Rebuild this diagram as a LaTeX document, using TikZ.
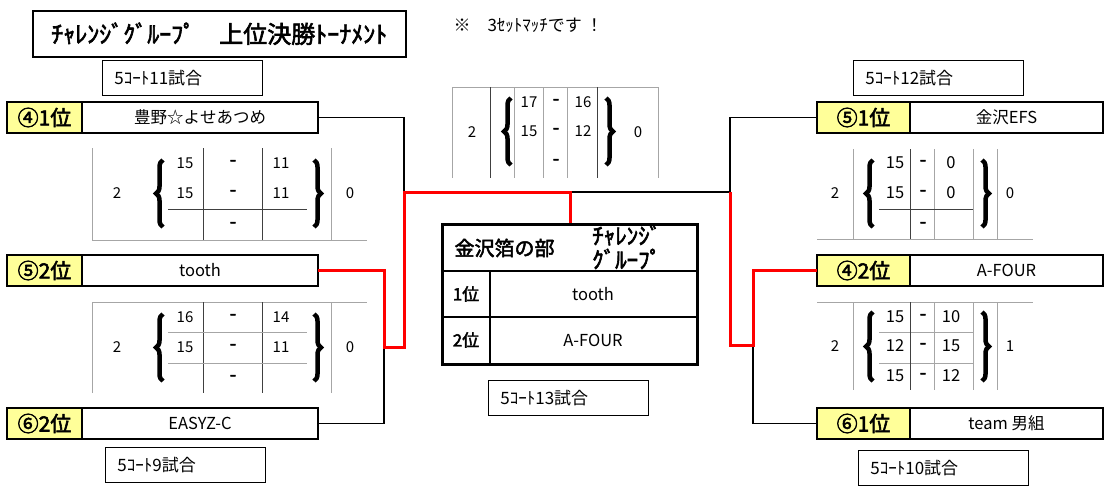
\documentclass[tikz,border=0pt]{standalone}
\usepackage{fontspec}
\setmainfont{Noto Sans CJK JP}[AutoFakeBold=2.5]
\usetikzlibrary{decorations.pathreplacing}
\definecolor{rankyellow}{HTML}{FFFF99}

\begin{document}
\begin{tikzpicture}[x=1pt, y=-1pt,
    rank/.style={draw, line width=1.2pt, fill=rankyellow, outer sep=0pt, minimum height=31pt, inner sep=0pt, font=\bfseries\fontsize{21}{21}\selectfont},
    team/.style={draw, line width=1.2pt, fill=white, outer sep=0pt, minimum height=31pt, inner sep=0pt, font=\fontsize{16.5}{16.5}\selectfont},
    court/.style={draw, line width=0.8pt, anchor=north west, minimum height=35pt, text width=136pt, inner xsep=12pt, align=left, font=\fontsize{17}{17}\selectfont},
    sc/.style={inner sep=0pt, font=\fontsize{15}{15}\selectfont},
    scdash/.style={inner sep=0pt, font=\bfseries\fontsize{18}{18}\selectfont},
    win/.style={red, line width=3pt},
    lose/.style={line width=1.2pt},
    dark/.style={black!75, line width=0.8pt},
    light/.style={black!35, line width=0.8pt},
    curly/.style={decorate, decoration={brace, amplitude=7pt}, line width=4.5pt}]
  \useasboundingbox (0,0) rectangle (1110,485);

  % title and note
  \node[draw, line width=1.5pt, anchor=north west, minimum width=373pt, minimum height=46pt, inner sep=0pt, font=\bfseries\fontsize{24}{24}\selectfont] (title) at (32,10) {ﾁｬﾚﾝｼﾞｸﾞﾙｰﾌﾟ　上位決勝ﾄｰﾅﾒﾝﾄ};
  \node[anchor=west, font=\fontsize{17}{17}\selectfont] (note) at (450,25) {※　3ｾｯﾄﾏｯﾁです ！};

  % courts
  \node[court] (c11) at (102,60) {5ｺｰﾄ11試合};
  \node[court, text width=146pt] (c12) at (853,60) {5ｺｰﾄ12試合};
  \node[court] (c9) at (105,447) {5ｺｰﾄ9試合};
  \node[court, text width=146pt] (c10) at (858,450) {5ｺｰﾄ10試合};
  \node[court] (c13) at (488,380) {5ｺｰﾄ13試合};

  % teams left
  \node[rank, minimum width=75pt, anchor=north west] (r41) at (7,102) {④1位};
  \node[team, minimum width=236pt, anchor=west] (t41) at (r41.east) {豊野☆よせあつめ};
  \node[rank, minimum width=75pt, anchor=north west] (r52) at (7,255) {⑤2位};
  \node[team, minimum width=236pt, anchor=west] (t52) at (r52.east) {tooth};
  \node[rank, minimum width=75pt, anchor=north west] (r62) at (7,408) {⑥2位};
  \node[team, minimum width=236pt, anchor=west] (t62) at (r62.east) {EASYZ-C};

  % teams right
  \node[rank, minimum width=93pt, anchor=north west] (r51) at (817,102) {⑤1位};
  \node[team, minimum width=193pt, anchor=west] (t51) at (r51.east) {金沢EFS};
  \node[rank, minimum width=93pt, anchor=north west] (r42) at (817,255) {④2位};
  \node[team, minimum width=193pt, anchor=west] (t42) at (r42.east) {A-FOUR};
  \node[rank, minimum width=93pt, anchor=north west] (r61) at (817,408) {⑥1位};
  \node[team, minimum width=193pt, anchor=west] (t61) at (r61.east) {team 男組};

  % score left top
  \draw[light] (92,148) -- (92,240) -- (367,240) (331,148) -- (331,240);
  \draw[dark] (203,148) -- (203,240) (262,148) -- (262,240) (168,209) -- (307,209);
  \node[sc] (lts) at (117,193) {2};
  \node[sc] (ltr) at (350,193) {0};
  \foreach \y/\a/\b [count=\i] in {163/15/11, 193/15/11, 225//}{
    \node[sc] (lta\i) at (185,\y) {\a};
    \node[scdash] (ltd\i) at (233,\y) {-};
    \node[sc] (ltb\i) at (281,\y) {\b};
  }
  \draw[curly] (163,227) -- (163,160);
  \draw[curly] (314,160) -- (314,227);

  % score left bottom
  \draw[light] (92,393) -- (92,302) -- (367,302) (331,302) -- (331,393);
  \draw[dark] (203,302) -- (203,393) (262,302) -- (262,393);
  \draw[light] (168,332) -- (307,332) (168,363) -- (307,363);
  \node[sc] (lbs) at (117,347) {2};
  \node[sc] (lbr) at (350,347) {0};
  \foreach \y/\a/\b [count=\i] in {317/16/14, 347/15/11, 378//}{
    \node[sc] (lba\i) at (185,\y) {\a};
    \node[scdash] (lbd\i) at (233,\y) {-};
    \node[sc] (lbb\i) at (281,\y) {\b};
  }
  \draw[curly] (163,381) -- (163,314);
  \draw[curly] (314,314) -- (314,381);

  % score right top
  \draw[light] (817,239) -- (1033,239) (853,149) -- (853,239) (934,149) -- (934,239)
    (973,149) -- (973,239) (997,149) -- (997,239);
  \draw[dark] (910,149) -- (910,239) (879,209) -- (973,209);
  \node[sc] (rts) at (835,193) {2};
  \node[sc] (rtr) at (1010,193) {0};
  \foreach \y/\a/\b [count=\i] in {163/15/0, 193/15/0, 225//}{
    \node[sc, font=\fontsize{16.5}{16.5}\selectfont] (rta\i) at (895,\y) {\a};
    \node[scdash] (rtd\i) at (923,\y) {-};
    \node[sc, font=\fontsize{16.5}{16.5}\selectfont] (rtb\i) at (951,\y) {\b};
  }
  \draw[curly] (873,227) -- (873,160);
  \draw[curly] (982,160) -- (982,227);

  % score right bottom
  \draw[light] (817,302) -- (1033,302) (853,302) -- (853,390) (934,302) -- (934,390)
    (973,302) -- (973,390) (997,302) -- (997,390) (879,332) -- (973,332) (879,363) -- (973,363);
  \draw[dark] (910,302) -- (910,390);
  \node[sc] (rbs) at (835,346) {2};
  \node[sc] (rbr) at (1010,346) {1};
  \foreach \y/\a/\b [count=\i] in {317/15/10, 346/12/15, 376/15/12}{
    \node[sc, font=\fontsize{16.5}{16.5}\selectfont] (rba\i) at (895,\y) {\a};
    \node[scdash] (rbd\i) at (923,\y) {-};
    \node[sc, font=\fontsize{16.5}{16.5}\selectfont] (rbb\i) at (951,\y) {\b};
  }
  \draw[curly] (873,381) -- (873,312);
  \draw[curly] (982,312) -- (982,381);

  % score final
  \draw[light] (452,178) -- (452,87) -- (658,87) (514,87) -- (514,178) (543,87) -- (543,178)
    (567,87) -- (567,178) (658,87) -- (658,178);
  \draw[dark] (490,87) -- (490,178) (597,87) -- (597,178);
  \node[sc] (cts) at (472,132) {2};
  \node[sc] (ctr) at (638,132) {0};
  \foreach \y/\a/\b [count=\i] in {102/17/16, 131/15/12, 162//}{
    \node[sc] (cta\i) at (529,\y) {\a};
    \node[scdash] (ctd\i) at (556,\y) {-};
    \node[sc] (ctb\i) at (583,\y) {\b};
  }
  \draw[curly] (511,165) -- (511,98);
  \draw[curly] (606,98) -- (606,165);

  % result table
  \node[draw, line width=3pt, anchor=north west, minimum width=255pt, minimum height=140pt, inner sep=0pt] (result) at (441,223) {};
  \draw[line width=1.2pt] (441,271) -- (696,271) (441,317) -- (696,317) (490,271) -- (490,363);
  \node[anchor=west, font=\bfseries\fontsize{20}{20}\selectfont] (division) at (451,248) {金沢箔の部};
  \node[anchor=west, align=left, inner sep=0pt, font=\bfseries\fontsize{23}{24}\selectfont] (group) at (592,247) {ﾁｬﾚﾝｼﾞ\\ｸﾞﾙｰﾌﾟ};
  \node[font=\bfseries\fontsize{17}{17}\selectfont] (first) at (466,294) {1位};
  \node[font=\fontsize{16.5}{16.5}\selectfont] (firstteam) at (593,294) {tooth};
  \node[font=\bfseries\fontsize{17}{17}\selectfont] (second) at (466,340) {2位};
  \node[font=\fontsize{16.5}{16.5}\selectfont] (secondteam) at (593,340) {A-FOUR};

  % bracket lines
  \coordinate (lmid) at (384,347);
  \coordinate (lsplit) at (404,192);
  \coordinate (rsplit) at (730,192);
  \coordinate (rmid) at (753,345);
  \coordinate (top) at (result.north |- lsplit);
  \draw[lose] (t41.east) -| (lsplit);
  \draw[lose] (t62.east) -| (lmid);
  \draw[lose] (r51.west) -| (rsplit);
  \draw[lose] (r61.west) -| (rmid);
  \draw[lose] (top) -- (rsplit);
  \draw[win] (t52.east) -| (lmid) -| (lsplit) -| (result.north);
  \draw[win] (r42.west) -| (rmid) -| (rsplit);
\end{tikzpicture}
\end{document}
